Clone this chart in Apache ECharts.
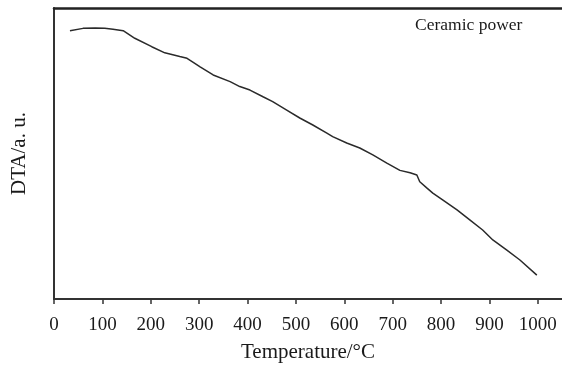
<!DOCTYPE html>
<html>
<head>
<meta charset="utf-8">
<script src="https://cdn.jsdelivr.net/npm/echarts@6/dist/echarts.min.js"></script>
<style>
  html, body { margin: 0; padding: 0; background: #fff; }
  #chart { width: 562px; height: 365px; }
</style>
</head>
<body>
<div id="chart"></div>
<script>
// DTA trace of the ceramic powder (arbitrary units) against temperature
const temperature = [33, 60, 85, 105, 122, 143, 167, 202, 229, 260, 275, 291, 302, 329, 364, 384, 405, 432, 452, 481, 508, 535, 564, 576, 605, 632, 659, 688, 715, 736, 750, 756, 771, 783, 804, 833, 860, 886, 907, 936, 963, 998];
const dta = [92.2, 93.0, 93.1, 93.0, 92.7, 92.2, 89.6, 86.7, 84.6, 83.3, 82.7, 81.0, 79.8, 77.0, 74.7, 73.0, 71.8, 69.5, 67.8, 64.9, 62.2, 59.8, 57.0, 55.8, 53.6, 51.9, 49.5, 46.7, 44.2, 43.4, 42.6, 40.3, 38.1, 36.4, 34.0, 30.6, 27.1, 23.7, 20.3, 16.8, 13.4, 8.2];
const xTicks = [0, 100, 200, 300, 400, 500, 600, 700, 800, 900, 1000];

const serif = '"Liberation Serif", "DejaVu Serif", serif';
const ink = '#1a1a1a';

const chart = echarts.init(document.getElementById('chart'));
chart.setOption({
  animation: false,
  backgroundColor: '#fff',
  grid: { left: 54, right: 0, top: 8, bottom: 66, containLabel: false, outerBoundsMode: 'none' },
  xAxis: [{
    type: 'value',
    min: 0,
    max: 1050,
    interval: 100,
    name: 'Temperature/°C',
    nameLocation: 'middle',
    nameGap: 43,
    nameTextStyle: { fontFamily: serif, fontSize: 21, color: ink },
    axisLine: { show: true, onZero: false, lineStyle: { color: '#333', width: 2 } },
    axisTick: { show: true, inside: false, length: 5, customValues: xTicks, lineStyle: { color: '#333', width: 1.5 } },
    axisLabel: {
      customValues: xTicks,
      margin: 17,
      fontFamily: serif,
      fontSize: 19,
      color: ink,
      formatter: v => String(v)
    },
    splitLine: { show: false }
  }, {
    type: 'value',
    position: 'top',
    min: 0,
    max: 1050,
    axisLine: { show: true, onZero: false, lineStyle: { color: '#222', width: 2.5 } },
    axisTick: { show: false },
    axisLabel: { show: false },
    splitLine: { show: false }
  }],
  yAxis: {
    type: 'value',
    min: 0,
    max: 100,
    name: 'DTA/a. u.',
    nameLocation: 'middle',
    nameGap: 24,
    nameRotate: 90,
    nameTextStyle: { fontFamily: serif, fontSize: 21, color: ink },
    axisLine: { show: true, onZero: false, lineStyle: { color: '#333', width: 2 } },
    axisTick: { show: false },
    axisLabel: { show: false },
    splitLine: { show: false }
  },
  graphic: [{
    type: 'text',
    left: 415,
    top: 16,
    style: { text: 'Ceramic power', font: '17.5px ' + serif, fill: ink }
  }],
  series: [{
    type: 'line',
    data: temperature.map((t, i) => [t, dta[i]]),
    showSymbol: false,
    smooth: false,
    lineStyle: { color: '#2a2a2a', width: 1.5 }
  }]
});
</script>
</body>
</html>
